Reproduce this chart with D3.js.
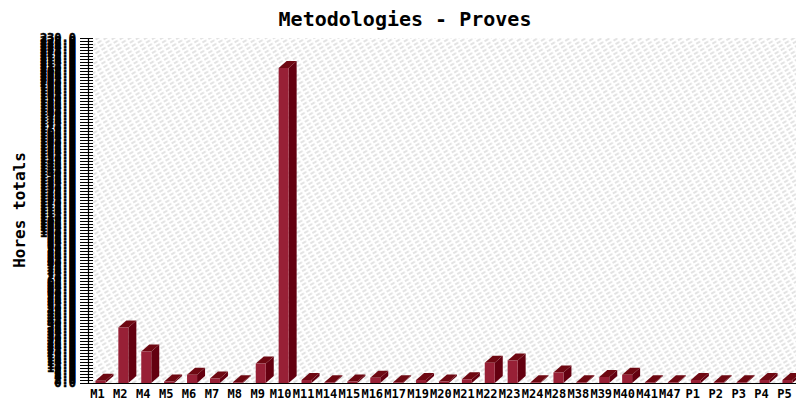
<!DOCTYPE html>
<html>
<head>
<meta charset="utf-8">
<script src="https://cdn.jsdelivr.net/npm/d3@7"></script>
<style>
  html, body { margin: 0; padding: 0; background: #fff; }
  svg { display: block; }
  text { font-family: "DejaVu Sans Mono", "Liberation Mono", monospace; font-weight: bold; fill: #000; }
</style>
</head>
<body>
<svg id="chart" width="796" height="401"></svg>
<script>
// Hours per methodology / test
const categories = ["M1","M2","M4","M5","M6","M7","M8","M9","M10","M11","M14","M15","M16","M17",
  "M19","M20","M21","M22","M23","M24","M28","M38","M39","M40","M41","M47","P1","P2","P3","P4","P5"];
const hours = [1.5, 37, 21, 1, 5.5, 3, 0.5, 13, 210, 2, 0.5, 1, 3.5, 0.5,
  2, 1, 2.5, 13.5, 15, 0.5, 7, 0.5, 4, 5.5, 0.5, 0.5, 2, 0.5, 0.5, 2, 2];
const yMax = 230;
const tickStep = 2;
const yTicks = d3.range(0, yMax + tickStep / 2, tickStep);

const title = "Metodologies - Proves";
const yTitle = "Hores totals";

const svg = d3.select("#chart");
const W = 796, H = 401;
const plot = { left: 88, top: 38, bottom: 383 };
const step = 22.9;
const depthX = 8, depthY = 7, faceW = 10;

const x = d3.scaleBand()
  .domain(categories)
  .range([plot.left, plot.left + step * categories.length])
  .paddingInner(0).paddingOuter(0);

const y = d3.scaleLinear().domain([0, yMax]).range([plot.bottom, plot.top]);

// Hatched plot background
const defs = svg.append("defs");
const pat = defs.append("pattern")
  .attr("id", "hatch")
  .attr("patternUnits", "userSpaceOnUse")
  .attr("width", 7).attr("height", 4)
  .attr("patternTransform", "rotate(-30)");
pat.append("rect").attr("width", 7).attr("height", 4).attr("fill", "#fff");
pat.append("line")
  .attr("x1", 0).attr("y1", 2).attr("x2", 4.5).attr("y2", 2)
  .attr("stroke", "#cdcdcd").attr("stroke-width", 1.1);

svg.append("rect")
  .attr("x", plot.left + 5).attr("y", plot.top)
  .attr("width", W - plot.left - 5).attr("height", plot.bottom - plot.top)
  .attr("fill", "url(#hatch)");

// 3D bars
const bars = svg.append("g");
categories.forEach((c, i) => {
  const x0 = x(c) + x.bandwidth() / 2 - 4;
  const yt = y(hours[i]);
  const yb = y(0);
  const g = bars.append("g");
  // side face
  g.append("path")
    .attr("d", `M${x0 + faceW},${yb} L${x0 + faceW + depthX},${yb - depthY} L${x0 + faceW + depthX},${yt - depthY} L${x0 + faceW},${yt} Z`)
    .attr("fill", "#640010");
  // top face
  g.append("path")
    .attr("d", `M${x0},${yt} L${x0 + depthX},${yt - depthY} L${x0 + faceW + depthX},${yt - depthY} L${x0 + faceW},${yt} Z`)
    .attr("fill", "#6e0812");
  // front face
  g.append("rect")
    .attr("x", x0).attr("y", yt)
    .attr("width", faceW).attr("height", Math.max(0, yb - yt))
    .attr("fill", "#982036");
});

// Baseline
svg.append("line")
  .attr("x1", plot.left).attr("x2", W)
  .attr("y1", plot.bottom + 0.5).attr("y2", plot.bottom + 0.5)
  .attr("stroke", "#000").attr("stroke-width", 1.2);

// Y axis with dense ticks
const yAxis = d3.axisLeft(y)
  .tickValues(yTicks)
  .tickFormat(d3.format(".1f"))
  .tickSizeInner(8)
  .tickSizeOuter(0)
  .tickPadding(4);
const ya = svg.append("g")
  .attr("transform", `translate(${plot.left},0)`)
  .call(yAxis);
ya.select(".domain").attr("stroke", "#000").attr("stroke-width", 1.2);
ya.selectAll(".tick line").attr("x2", -8).attr("x1", 5).attr("stroke", "#000");
ya.selectAll(".tick text")
  .style("font-family", "'DejaVu Sans Mono', monospace")
  .style("font-weight", "bold")
  .style("font-size", "12px")
  .attr("fill", "#000")
  .attr("stroke", "#000")
  .attr("stroke-width", 0.5);

// X labels
svg.append("g").selectAll("text")
  .data(categories)
  .join("text")
  .attr("x", d => x(d) + x.bandwidth() / 2 - 2)
  .attr("y", 398)
  .attr("text-anchor", "middle")
  .style("font-size", "12px")
  .text(d => d);

// Title
svg.append("text")
  .attr("x", 405).attr("y", 26)
  .attr("text-anchor", "middle")
  .style("font-size", "20px")
  .text(title);

// Y title
svg.append("text")
  .attr("transform", "translate(25,210) rotate(-90)")
  .attr("text-anchor", "middle")
  .style("font-size", "16px")
  .text(yTitle);
</script>
</body>
</html>
